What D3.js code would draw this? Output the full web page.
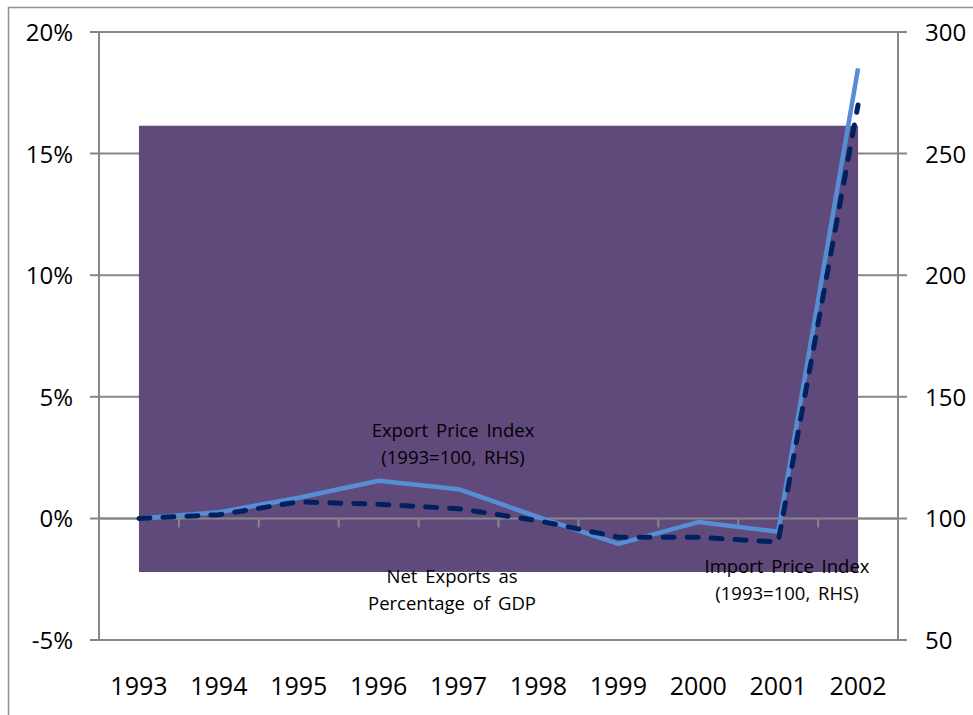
<!DOCTYPE html>
<html><head><meta charset="utf-8">
<script src="https://cdn.jsdelivr.net/npm/d3@7"></script>
<style>body{margin:0;background:#fff}svg{display:block;font-family:"Open Sans",sans-serif}</style>
</head><body><svg id="c" width="973" height="715"></svg>
<script>
const years = ["1993","1994","1995","1996","1997","1998","1999","2000","2001","2002"];
const exportIdx = [100,102.5,108.5,115.5,112,100.5,89.5,98.5,94.5,285];
const importIdx = [100,101.5,106.8,105.8,104,99,92.3,92.2,90.3,270];
const netExpHigh = [16.15,16.15,16.15,16.15,16.15,16.15,16.15,16.15,16.15,16.15];
const netExpLow = [-2.2,-2.2,-2.2,-2.2,-2.2,-2.2,-2.2,-2.2,-2.2,-2.2];
const leftTicks = [-5,0,5,10,15,20];
const rightTicks = [50,100,150,200,250,300];

const svg = d3.select("#c");
const L=99, R=898, T=32, B=640;
const x = d3.scaleBand().domain(years).range([L,R]);
const xc = d => x(d)+x.bandwidth()/2;
const yL = d3.scaleLinear().domain([-5,20]).range([B,T]);
const yR = d3.scaleLinear().domain([50,300]).range([B,T]);
const gray="#878787";

svg.append("rect").attr("x",8.5).attr("y",7.5).attr("width",1000).attr("height",800)
  .attr("fill","none").attr("stroke","#8f8f8f").attr("stroke-width",1.5);

// gridlines
svg.append("g").selectAll("line").data(leftTicks).join("line")
  .attr("x1",L-9).attr("x2",R+9).attr("y1",d=>yL(d)).attr("y2",d=>yL(d))
  .attr("stroke",gray).attr("stroke-width",2);

// net exports band
const area = d3.area().x((d,i)=>xc(years[i])).y0((d,i)=>yL(netExpLow[i])).y1((d,i)=>yL(netExpHigh[i]));
svg.append("path").datum(netExpHigh).attr("d",area).attr("fill","#604A7B");

// axes verticals
svg.append("line").attr("x1",L).attr("x2",L).attr("y1",T).attr("y2",B).attr("stroke",gray).attr("stroke-width",2);
svg.append("line").attr("x1",R).attr("x2",R).attr("y1",T).attr("y2",B).attr("stroke",gray).attr("stroke-width",2);

// x axis at 0
svg.append("line").attr("x1",L).attr("x2",R).attr("y1",yL(0)).attr("y2",yL(0)).attr("stroke",gray).attr("stroke-width",2);
svg.append("g").selectAll("line").data(years.slice(1)).join("line")
  .attr("x1",d=>x(d)).attr("x2",d=>x(d)).attr("y1",yL(0)).attr("y2",yL(0)+9)
  .attr("stroke",gray).attr("stroke-width",2);

// labels
svg.append("g").selectAll("text").data(leftTicks).join("text")
  .attr("x",73).attr("y",d=>yL(d)+9).attr("text-anchor","end").attr("font-size",24)
  .text(d=>d+"%");
svg.append("g").selectAll("text").data(rightTicks).join("text")
  .attr("x",925).attr("y",d=>yR(d)+9).attr("text-anchor","start").attr("font-size",24)
  .text(d=>d);
svg.append("g").selectAll("text").data(years).join("text")
  .attr("x",d=>xc(d)).attr("y",695).attr("text-anchor","middle").attr("font-size",25)
  .text(d=>d);

// lines
const lineR = d3.line().x((d,i)=>xc(years[i])).y(d=>yR(d));
svg.append("path").datum(exportIdx).attr("d",lineR).attr("fill","none")
  .attr("stroke","#558ED5").attr("stroke-width",4.5).attr("stroke-linejoin","round");
svg.append("path").datum(importIdx).attr("d",lineR).attr("fill","none")
  .attr("stroke","#002060").attr("stroke-width",5).attr("stroke-dasharray","11,13")
  .attr("stroke-linecap","round");

// annotations
const ann = [
  {x:453,y:437,t:"Export Price Index"},{x:453,y:464,t:"(1993=100, RHS)"},
  {x:452,y:583,t:"Net Exports as"},{x:452,y:610,t:"Percentage of GDP"},
  {x:787,y:573,t:"Import Price Index"},{x:787,y:600,t:"(1993=100, RHS)"}
];
svg.append("g").selectAll("text").data(ann).join("text")
  .attr("x",d=>d.x).attr("y",d=>d.y).attr("text-anchor","middle").attr("font-size",18.5)
  .attr("word-spacing",3).attr("fill","#000").text(d=>d.t);
</script></body></html>
